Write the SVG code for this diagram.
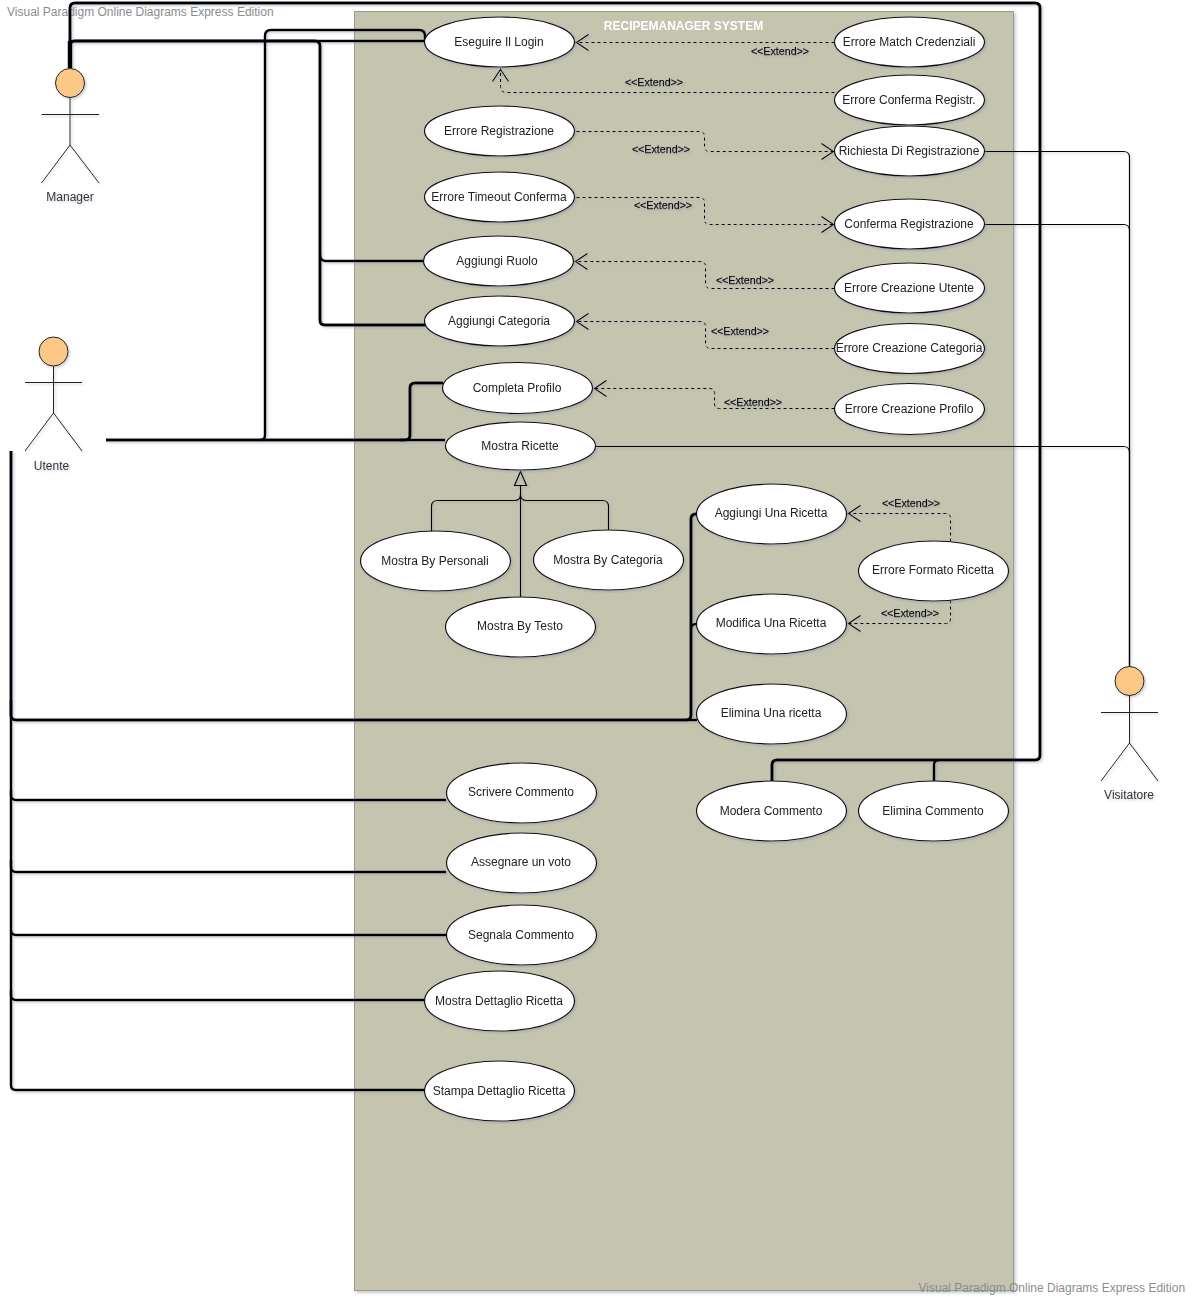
<svg xmlns="http://www.w3.org/2000/svg" width="1196" height="1304" viewBox="0 0 1196 1304">
<style>
text{font-family:"Liberation Sans",Arial,sans-serif;font-size:12px;fill:#222;text-anchor:middle}
.uc{fill:#fff;stroke:#111;stroke-width:1.2}
.ln{fill:none;stroke:#000}
.t1{stroke-width:1.2}
.t2{stroke-width:2.5}
.t3{stroke-width:3}
.t4{stroke-width:4.500}
.d{fill:none;stroke:#000;stroke-width:1;stroke-dasharray:3 3;marker-end:url(#open)}
.x{font-size:10.700px;fill:#000;stroke:#000;stroke-width:.25}
.wm{fill:#8c8c8c;text-anchor:start}
.head{fill:#fbc886;stroke:#222;stroke-width:1}
.fig{fill:none;stroke:#222;stroke-width:1}
.act{fill:#333}
</style>
<defs>
<marker id="open" markerUnits="userSpaceOnUse" markerWidth="16" markerHeight="20" refX="14" refY="9" orient="auto">
<path d="M1 1L13 9L1 17" fill="none" stroke="#000" stroke-width="1.100"/>
</marker>
<filter id="sh" x="-20%" y="-20%" width="140%" height="140%"><feDropShadow dx="2" dy="2" stdDeviation="1.5" flood-color="#8a8fa8" flood-opacity=".45"/></filter>
<filter id="sl" x="-5%" y="-5%" width="110%" height="110%" filterUnits="objectBoundingBox"><feDropShadow dx="1.500" dy="1.500" stdDeviation="1.200" flood-color="#8a8fa8" flood-opacity=".45"/></filter>
</defs>
<rect width="1196" height="1304" fill="#fff"/>
<text class="wm" x="7" y="16">Visual Paradigm Online Diagrams Express Edition</text>
<g id="system" filter="url(#sh)">
<rect x="354.500" y="11.500" width="659" height="1279" fill="#c4c4af" stroke="#9c9c84"/>
<text x="683.500" y="30" style="font-weight:bold;fill:#fff">RECIPEMANAGER SYSTEM</text>
</g>
<text class="wm" x="918.500" y="1292">Visual Paradigm Online Diagrams Express Edition</text>
<g id="connectors" filter="url(#sl)">
<path class="ln t4" d="M70 68V41"/>
<path class="ln t3" d="M70 68V8Q70 3 75 3H1035Q1040 3 1040 8V755Q1040 760 1035 760H777Q772 760 772 765V781"/>
<path class="ln t2" d="M939 760Q934 760 934 765V781"/>
<path class="ln t3" d="M70 68V46Q70 41 75 41H315Q320 41 320 46V320Q320 325 325 325H426"/>
<path class="ln t2" d="M70 41H425"/>
<path class="ln t2" d="M320 255Q320 261 326 261H424"/>
<path class="ln t3" d="M106 440H405Q410 440 410 435V388Q410 383 415 383H443"/>
<path class="ln t2" d="M260 440Q265 440 265 435V36Q265 30 271 30H419Q425 30 425 36V42"/>
<path class="ln t2" d="M400 440H445"/>
<path class="ln t3" d="M11 451V715Q11 720 16 720H686Q691 720 691 715V519Q691 514 696 514"/>
<path class="ln t2" d="M686 720H697M691 629Q691 624 696 624"/>
<path class="ln t2" d="M11 700V795Q11 800 16 800H446"/>
<path class="ln t2" d="M11 790V867Q11 872 16 872H446"/>
<path class="ln t2" d="M11 860V930Q11 935 16 935H446"/>
<path class="ln t2" d="M11 930V995Q11 1000 16 1000H424"/>
<path class="ln t2" d="M11 990V1085Q11 1090 16 1090H424"/>
<g transform="translate(.5 .5)">
<path class="ln t1" d="M984 151H1123Q1129 151 1129 157V666"/>
<path class="ln t1" d="M984 224H1123Q1129 224 1129 230V666"/>
<path class="ln t1" d="M595 446H1123Q1129 446 1129 452V666"/>
<path class="d" d="M834 42H575"/>
<path class="d" d="M834 92H506Q500 92 500 86V68"/>
<path class="d" d="M576 131H699Q704 131 704 136V146Q704 151 709 151H834"/>
<path class="d" d="M576 197H699Q704 197 704 202V219Q704 224 709 224H834"/>
<path class="d" d="M834 288H710Q705 288 705 283V266Q705 261 700 261H574"/>
<path class="d" d="M834 348H710Q705 348 705 343V326Q705 321 700 321H575"/>
<path class="d" d="M834 408H719Q714 408 714 403V393Q714 388 709 388H593"/>
<path class="d" d="M950 541V518Q950 513 945 513H847"/>
<path class="d" d="M950 600V618Q950 623 945 623H847"/>
<path class="ln t1" d="M520 597V485"/>
<path class="ln t1" d="M431 531V506Q431 500 437 500H514Q520 500 520 494Q520 500 526 500H602Q608 500 608 506V530"/>
<path d="M520 471L514 485H526Z" fill="none" stroke="#000" stroke-width="1.200"/>
</g>
<text class="x" x="780" y="55">&lt;&lt;Extend&gt;&gt;</text>
<text class="x" x="654" y="86">&lt;&lt;Extend&gt;&gt;</text>
<text class="x" x="661" y="153">&lt;&lt;Extend&gt;&gt;</text>
<text class="x" x="663" y="209">&lt;&lt;Extend&gt;&gt;</text>
<text class="x" x="745" y="284">&lt;&lt;Extend&gt;&gt;</text>
<text class="x" x="740" y="335">&lt;&lt;Extend&gt;&gt;</text>
<text class="x" x="753" y="406">&lt;&lt;Extend&gt;&gt;</text>
<text class="x" x="911" y="507">&lt;&lt;Extend&gt;&gt;</text>
<text class="x" x="910" y="617">&lt;&lt;Extend&gt;&gt;</text>
</g>
<g id="manager" filter="url(#sl)"><circle class="head" cx="70" cy="83" r="14.500"/><path class="fig" d="M70 97V145M41.500 114.500H99M41.500 183L70 145L99 183"/><text class="act" x="70" y="201">Manager</text></g>
<g id="utente" filter="url(#sl)"><circle class="head" cx="53.500" cy="351.500" r="14.500"/><path class="fig" d="M53.500 366V413M25 382.500H82M25 451L53.500 413L82 451"/><text class="act" x="51.500" y="470">Utente</text></g>
<g id="visitatore" filter="url(#sl)"><circle class="head" cx="1129.500" cy="681" r="14.500"/><path class="fig" d="M1129.500 695V743M1101 712.500H1158M1101 781L1129.500 743L1158 781"/><text class="act" x="1129" y="799">Visitatore</text></g>
<g id="uc-login" filter="url(#sl)"><ellipse class="uc" cx="499.500" cy="42" rx="75" ry="25"/><text x="499" y="46">Eseguire Il Login</text></g>
<g id="uc-match" filter="url(#sl)"><ellipse class="uc" cx="909.500" cy="42" rx="75" ry="25"/><text x="909" y="46">Errore Match Credenziali</text></g>
<g id="uc-conferma-registr" filter="url(#sl)"><ellipse class="uc" cx="909.500" cy="100" rx="75" ry="25"/><text x="909" y="104">Errore Conferma Registr.</text></g>
<g id="uc-richiesta" filter="url(#sl)"><ellipse class="uc" cx="909.500" cy="151" rx="75" ry="25"/><text x="909" y="155">Richiesta Di Registrazione</text></g>
<g id="uc-err-reg" filter="url(#sl)"><ellipse class="uc" cx="499.500" cy="131" rx="75" ry="25"/><text x="499" y="135">Errore Registrazione</text></g>
<g id="uc-timeout" filter="url(#sl)"><ellipse class="uc" cx="499.500" cy="197" rx="75" ry="25"/><text x="499" y="201">Errore Timeout Conferma</text></g>
<g id="uc-conferma" filter="url(#sl)"><ellipse class="uc" cx="909.500" cy="224" rx="75" ry="25"/><text x="909" y="228">Conferma Registrazione</text></g>
<g id="uc-ruolo" filter="url(#sl)"><ellipse class="uc" cx="498.500" cy="261" rx="75" ry="25"/><text x="497" y="265">Aggiungi Ruolo</text></g>
<g id="uc-err-utente" filter="url(#sl)"><ellipse class="uc" cx="909.500" cy="288" rx="75" ry="25"/><text x="909" y="292">Errore Creazione Utente</text></g>
<g id="uc-categoria" filter="url(#sl)"><ellipse class="uc" cx="499.500" cy="321" rx="75" ry="25"/><text x="499" y="325">Aggiungi Categoria</text></g>
<g id="uc-err-categoria" filter="url(#sl)"><ellipse class="uc" cx="909.500" cy="348.500" rx="75" ry="25"/><text x="909" y="352">Errore Creazione Categoria</text></g>
<g id="uc-profilo" filter="url(#sl)"><ellipse class="uc" cx="517.500" cy="388" rx="75" ry="25.500"/><text x="517" y="392">Completa Profilo</text></g>
<g id="uc-err-profilo" filter="url(#sl)"><ellipse class="uc" cx="909.500" cy="409" rx="75" ry="25.500"/><text x="909" y="413">Errore Creazione Profilo</text></g>
<g id="uc-mostra" filter="url(#sl)"><ellipse class="uc" cx="520.500" cy="446" rx="75" ry="24"/><text x="520" y="450">Mostra Ricette</text></g>
<g id="uc-personali" filter="url(#sl)"><ellipse class="uc" cx="435.500" cy="561" rx="75" ry="30"/><text x="435" y="565">Mostra By Personali</text></g>
<g id="uc-by-categoria" filter="url(#sl)"><ellipse class="uc" cx="608.500" cy="560" rx="75" ry="30"/><text x="608" y="564">Mostra By Categoria</text></g>
<g id="uc-testo" filter="url(#sl)"><ellipse class="uc" cx="520.500" cy="627" rx="75" ry="30"/><text x="520" y="630">Mostra By Testo</text></g>
<g id="uc-aggiungi" filter="url(#sl)"><ellipse class="uc" cx="771.500" cy="514" rx="75" ry="30"/><text x="771" y="517">Aggiungi Una Ricetta</text></g>
<g id="uc-formato" filter="url(#sl)"><ellipse class="uc" cx="933.500" cy="571" rx="75" ry="30"/><text x="933" y="574">Errore Formato Ricetta</text></g>
<g id="uc-modifica" filter="url(#sl)"><ellipse class="uc" cx="771.500" cy="624" rx="75" ry="30"/><text x="771" y="627">Modifica Una Ricetta</text></g>
<g id="uc-elimina" filter="url(#sl)"><ellipse class="uc" cx="771.500" cy="714" rx="75" ry="30"/><text x="771" y="717">Elimina Una ricetta</text></g>
<g id="uc-modera" filter="url(#sl)"><ellipse class="uc" cx="771.500" cy="811" rx="75" ry="30"/><text x="771" y="815">Modera Commento</text></g>
<g id="uc-elimina-comm" filter="url(#sl)"><ellipse class="uc" cx="933.500" cy="811" rx="75" ry="30"/><text x="933" y="815">Elimina Commento</text></g>
<g id="uc-scrivere" filter="url(#sl)"><ellipse class="uc" cx="521.500" cy="793" rx="75" ry="30"/><text x="521" y="796">Scrivere Commento</text></g>
<g id="uc-voto" filter="url(#sl)"><ellipse class="uc" cx="521.500" cy="863" rx="75" ry="30"/><text x="521" y="866">Assegnare un voto</text></g>
<g id="uc-segnala" filter="url(#sl)"><ellipse class="uc" cx="521.500" cy="935" rx="75" ry="30"/><text x="521" y="939">Segnala Commento</text></g>
<g id="uc-dettaglio" filter="url(#sl)"><ellipse class="uc" cx="499.500" cy="1001" rx="75" ry="30"/><text x="499" y="1005">Mostra Dettaglio Ricetta</text></g>
<g id="uc-stampa" filter="url(#sl)"><ellipse class="uc" cx="499.500" cy="1091" rx="75" ry="30"/><text x="499" y="1095">Stampa Dettaglio Ricetta</text></g>
</svg>
